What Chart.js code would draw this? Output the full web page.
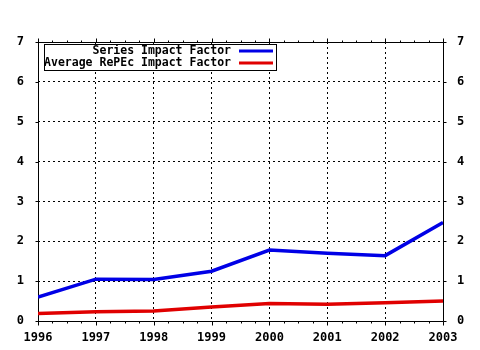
<!DOCTYPE html>
<html>
<head>
<meta charset="utf-8">
<script src="https://cdn.jsdelivr.net/npm/chart.js@4/dist/chart.umd.min.js"></script>
<style>
  html, body { margin: 0; padding: 0; background: #fff; }
  #wrap { width: 480px; height: 350px; }
</style>
</head>
<body>
<div id="wrap"><canvas id="c" width="480" height="350"></canvas></div>
<script>
// Impact factor of the series vs. the RePEc average, by year
const years = [1996, 1997, 1998, 1999, 2000, 2001, 2002, 2003];
const seriesImpact = [0.60, 1.05, 1.04, 1.25, 1.78, 1.70, 1.64, 2.47];
const averageRepec = [0.19, 0.23, 0.25, 0.35, 0.44, 0.42, 0.46, 0.50];
const yTicks = [0, 1, 2, 3, 4, 5, 6, 7];
const seriesLabels = ['Series Impact Factor', 'Average RePEc Impact Factor'];

const FONT = 'bold 11.5px "DejaVu Sans Mono", "Liberation Mono", monospace';
const tickFont = { family: '"DejaVu Sans Mono", "Liberation Mono", monospace', size: 12, weight: 'bold' };

const toPoints = vals => years.map((yr, i) => ({ x: yr, y: vals[i] }));

// Solid frame with outward major/minor tick marks
const framePlugin = {
  id: 'frame',
  beforeDatasetsDraw(chart) {
    const { ctx, chartArea: a, scales } = chart;
    const xs = scales.x, ys = scales.y;
    ctx.save();
    ctx.strokeStyle = '#000';
    ctx.lineWidth = 1;
    ctx.setLineDash([]);
    ctx.beginPath();
    const L = Math.round(a.left) + 0.5, R = Math.round(a.right) + 0.5;
    const T = Math.round(a.top) + 0.5, B = Math.round(a.bottom) + 0.5;
    ctx.rect(L, T, R - L, B - T);
    // x axis ticks: majors at each year, three minors in between
    for (let yr = years[0]; yr <= years[years.length - 1]; yr++) {
      for (let k = 0; k < 4; k++) {
        const v = yr + k / 4;
        if (v > years[years.length - 1]) break;
        const px = Math.round(xs.getPixelForValue(v)) + 0.5;
        const len = k === 0 ? 4 : 2;
        ctx.moveTo(px, B); ctx.lineTo(px, B + len);
        ctx.moveTo(px, T); ctx.lineTo(px, T - len);
      }
    }
    // y axis ticks on both sides
    yTicks.forEach(v => {
      const py = Math.round(ys.getPixelForValue(v)) + 0.5;
      ctx.moveTo(L, py); ctx.lineTo(L - 3, py);
      ctx.moveTo(R, py); ctx.lineTo(R + 3, py);
    });
    ctx.stroke();
    ctx.restore();
  }
};

// Boxed legend: labels right-aligned, line sample to their right
const legendPlugin = {
  id: 'boxLegend',
  afterDraw(chart) {
    const { ctx } = chart;
    const bx = 44.5, by = 44.5, bw = 232, bh = 26;
    ctx.save();
    ctx.fillStyle = '#fff';
    ctx.fillRect(bx, by, bw, bh);
    ctx.strokeStyle = '#000';
    ctx.lineWidth = 1;
    ctx.strokeRect(bx, by, bw, bh);
    ctx.font = FONT;
    ctx.textAlign = 'right';
    ctx.textBaseline = 'middle';
    chart.data.datasets.forEach((ds, i) => {
      const cy = 51 + i * 12;
      ctx.fillStyle = '#000';
      ctx.fillText(ds.label, 231, cy);
      ctx.strokeStyle = ds.borderColor;
      ctx.lineWidth = 3;
      ctx.beginPath();
      ctx.moveTo(239, cy);
      ctx.lineTo(273, cy);
      ctx.stroke();
    });
    ctx.restore();
  }
};

new Chart(document.getElementById('c'), {
  type: 'line',
  data: {
    datasets: [
      { label: seriesLabels[0], data: toPoints(seriesImpact), borderColor: '#0000e6', borderWidth: 3.5, pointRadius: 0, tension: 0, yAxisID: 'y' },
      { label: seriesLabels[1], data: toPoints(averageRepec), borderColor: '#e00000', borderWidth: 3.5, pointRadius: 0, tension: 0, yAxisID: 'y' }
    ]
  },
  options: {
    responsive: false,
    animation: false,
    layout: { padding: { top: 42, left: 0, right: 0, bottom: 0 } },
    plugins: { legend: { display: false }, tooltip: { enabled: false } },
    scales: {
      x: {
        type: 'linear',
        min: years[0], max: years[years.length - 1],
        afterBuildTicks: s => { s.ticks = years.map(v => ({ value: v })); },
        afterFit: s => { s.height = 29; },
        ticks: { font: tickFont, color: '#000', padding: 10, maxRotation: 0, callback: v => String(v) },
        grid: { color: '#000', lineWidth: 1, drawTicks: false },
        border: { display: false, dash: [2, 3] }
      },
      y: {
        position: 'left',
        min: 0, max: 7,
        afterBuildTicks: s => { s.ticks = yTicks.map(v => ({ value: v })); },
        afterFit: s => { s.width = 38; },
        ticks: { font: tickFont, color: '#000', padding: 14 },
        grid: { color: '#000', lineWidth: 1, drawTicks: false },
        border: { display: false, dash: [2, 3] }
      },
      y2: {
        position: 'right',
        min: 0, max: 7,
        afterBuildTicks: s => { s.ticks = yTicks.map(v => ({ value: v })); },
        afterFit: s => { s.width = 37; },
        ticks: { font: tickFont, color: '#000', padding: 14 },
        grid: { display: false, drawTicks: false },
        border: { display: false }
      }
    }
  },
  plugins: [framePlugin, legendPlugin]
});
</script>
</body>
</html>
